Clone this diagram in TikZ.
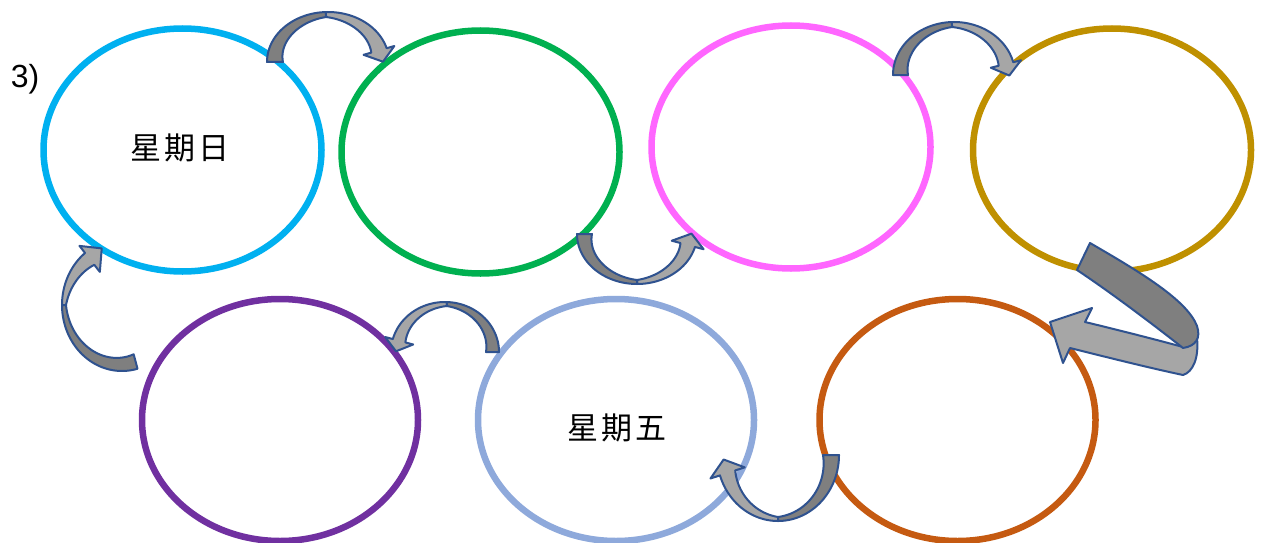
\documentclass[tikz,border=0pt]{standalone}
\usepackage{fontspec}
\newfontfamily\cjk{Noto Sans CJK TC}
\newfontfamily\labfont{Liberation Sans}
\usetikzlibrary{shapes.geometric}
\definecolor{cblue}{HTML}{00B0F0}
\definecolor{cgreen}{HTML}{00B050}
\definecolor{cpink}{HTML}{FF66FF}
\definecolor{cgold}{HTML}{BF9000}
\definecolor{cpurple}{HTML}{7030A0}
\definecolor{clblue}{HTML}{8EA9DB}
\definecolor{corange}{HTML}{C55A11}
\definecolor{tailgray}{HTML}{7F7F7F}
\definecolor{headgray}{HTML}{A6A6A6}
\definecolor{arredge}{HTML}{2F528F}
\tikzset{
  ring/.style={ellipse, draw=#1, line width=6.5pt, inner sep=0pt},
  arr/.style={draw=arredge, line width=2pt, line join=round},
  daytext/.style={font=\cjk\fontsize{31}{31}\selectfont, inner sep=0pt}
}
% curved block arrow: #1 cx, #2 cy, #3 rx, #4 ry (outer), #5 tail angle, #6 middle angle, #7 head base angle, #8 head length
\newcommand{\carrowshape}[8]{%
  \pgfmathsetmacro\carSg{sign((#7)-(#6))}%
  \pgfmathsetmacro\carRx{#3-\aw/2}%
  \pgfmathsetmacro\carRy{#4-\aw/2}%
  \pgfmathsetmacro\carDx{-\carRx*sin(#7)*\carSg}%
  \pgfmathsetmacro\carDy{-\carRy*cos(#7)*\carSg}%
  \pgfmathsetmacro\carDl{sqrt(\carDx*\carDx+\carDy*\carDy)}%
  \pgfmathsetmacro\carTx{#1+\carRx*cos(#7)+#8*\carDx/\carDl}%
  \pgfmathsetmacro\carTy{#2-\carRy*sin(#7)+#8*\carDy/\carDl}%
  \filldraw[arr, fill=headgray]
    plot[domain=#6:#7, samples=40] ({#1+#3*cos(\x)},{#2-#4*sin(\x)})
    -- ({#1+(#3+\ae)*cos(#7)},{#2-(#4+\ae)*sin(#7)})
    -- (\carTx,\carTy)
    -- ({#1+(#3-\aw-\ae)*cos(#7)},{#2-(#4-\aw-\ae)*sin(#7)})
    -- plot[domain=#7:#6, samples=40] ({#1+(#3-(\awm+(\aw-\awm)*(\x-(#6))/((#7)-(#6))))*cos(\x)},{#2-(#4-(\awm+(\aw-\awm)*(\x-(#6))/((#7)-(#6))))*sin(\x)})
    -- cycle;
  \filldraw[arr, fill=tailgray]
    plot[domain=#5:#6, samples=40] ({#1+#3*cos(\x)},{#2-#4*sin(\x)})
    -- plot[domain=#6:#5, samples=40] ({#1+(#3-(\awm+(\aw-\awm)*(\x-(#6))/((#5)-(#6))))*cos(\x)},{#2-(#4-(\awm+(\aw-\awm)*(\x-(#6))/((#5)-(#6))))*sin(\x)})
    -- cycle;
}
\begin{document}
\begin{tikzpicture}[x=1pt, y=-1pt]
\useasboundingbox (0,0) rectangle (1263,543);
\fill[white] (0,0) rectangle (1263,543);

% rings
\node[ring=cblue, minimum width=278pt, minimum height=243pt] (sun) at (182.5,150) {};
\node[ring=cgreen, minimum width=278pt, minimum height=243pt] (mon) at (480.5,152) {};
\node[ring=cpink, minimum width=279pt, minimum height=243pt] (tue) at (791,147) {};
\node[ring=cgold, minimum width=278pt, minimum height=243pt] (wed) at (1112,150) {};
\node[ring=cpurple, minimum width=276pt, minimum height=242pt] (sat) at (280,420) {};
\node[ring=clblue, minimum width=276pt, minimum height=242pt] (fri) at (616,420) {};
\node[ring=corange, minimum width=276pt, minimum height=242pt] (thu) at (957.5,420) {};

% texts
\node[daytext] (tsun) at (180,148) {星\hspace{3pt}期\hspace{3pt}日};
\node[daytext] (tfri) at (617,428) {星\hspace{3pt}期\hspace{3pt}五};
\node[font=\labfont\fontsize{32}{32}\selectfont, inner sep=0pt] (num) at (25,79) {3)};

% curved arrows
\def\aw{16}\def\awm{5}\def\ae{8}
\carrowshape{328}{62}{61}{50}{180}{92}{16}{12}
\def\aw{15}\def\awm{4}\def\ae{9}
\carrowshape{637}{234}{60}{50}{180}{270}{345}{12}
\def\aw{15}\def\awm{5}\def\ae{8}
\carrowshape{954}{75}{61}{53}{180}{92}{14}{12}
\def\aw{16}\def\awm{4}\def\ae{10}
\carrowshape{778}{455}{61}{66}{0}{-90}{-162}{14}
\def\aw{13}\def\awm{4}\def\ae{8}
\carrowshape{445}{352}{54}{50}{0}{88}{165}{11}
\def\aw{15}\def\awm{4}\def\ae{9}
\carrowshape{122}{305}{60}{66}{-75}{-180}{-232}{16}

% big twisted arrow (gold -> orange)
\filldraw[arr, fill=headgray] (1183,347) .. controls (1150,338) and (1110,328) .. (1085,322)
  -- (1092,308) -- (1050,322) -- (1063,363) -- (1070,348)
  .. controls (1110,358) and (1150,368) .. (1183,375)
  .. controls (1193,372) and (1199,358) .. (1197,338) -- cycle;
\filldraw[arr, fill=tailgray] (1077,270) -- (1090,243)
  .. controls (1140,272) and (1187,300) .. (1197,326)
  .. controls (1201,338) and (1196,346) .. (1183,348)
  .. controls (1150,322) and (1110,292) .. (1077,270) -- cycle;
\end{tikzpicture}
\end{document}
